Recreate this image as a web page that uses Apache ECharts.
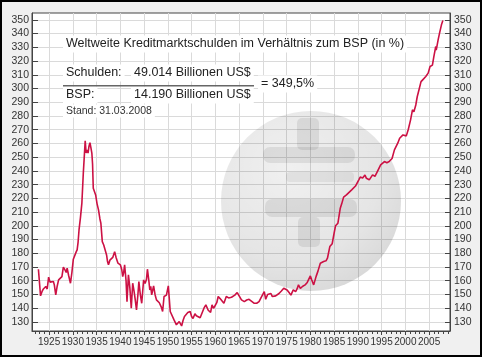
<!DOCTYPE html>
<html><head><meta charset="utf-8">
<script src="https://cdn.jsdelivr.net/npm/echarts@6/dist/echarts.min.js"></script>
<style>
html,body{margin:0;padding:0;background:#f0f0f0;}
#c{position:absolute;left:0;top:0;width:482px;height:357px;}
#b{position:absolute;left:0;top:0;width:482px;height:357px;box-sizing:border-box;border:2px solid #000;pointer-events:none;}
</style></head>
<body><div id="c"></div><div id="b"></div>
<script>
const years = [1922.75,1923.2,1923.5,1923.8,1924.3,1924.6,1924.9,1925.2,1925.4,1925.9,1926.1,1926.4,1926.7,1927.0,1927.4,1927.7,1928.0,1928.4,1928.6,1928.8,1929.1,1929.5,1929.8,1930.1,1930.5,1930.7,1930.9,1931.1,1931.3,1931.6,1931.9,1932.2,1932.4,1932.6,1932.8,1933.0,1933.2,1933.4,1933.6,1933.8,1934.0,1934.15,1934.3,1934.5,1934.8,1935.1,1935.4,1935.7,1935.9,1936.0,1936.2,1936.5,1936.8,1937.1,1937.3,1937.5,1937.8,1938.1,1938.4,1938.8,1939.1,1939.5,1939.8,1940.0,1940.3,1940.5,1940.7,1940.9,1941.2,1941.4,1941.7,1942.0,1942.3,1942.6,1942.9,1943.1,1943.4,1943.7,1943.9,1944.2,1944.5,1944.9,1945.2,1945.5,1945.7,1946.0,1946.2,1946.4,1946.6,1947.0,1947.3,1947.6,1947.9,1948.2,1948.6,1948.9,1949.2,1949.7,1950.1,1950.3,1950.5,1950.9,1951.3,1951.8,1952.1,1952.4,1952.9,1953.2,1953.5,1953.9,1954.2,1954.7,1955.0,1955.3,1955.7,1956.0,1956.4,1956.8,1957.1,1957.6,1958.0,1958.5,1959.0,1959.3,1959.6,1959.9,1960.3,1960.6,1961.0,1961.3,1961.8,1962.3,1962.8,1963.4,1963.8,1964.1,1964.6,1965.1,1965.5,1966.1,1966.6,1967.1,1967.5,1968.2,1968.7,1969.2,1969.6,1969.9,1970.3,1970.6,1971.0,1971.3,1971.7,1972.0,1972.7,1973.4,1973.9,1974.4,1975.1,1975.6,1975.9,1976.4,1976.9,1977.2,1977.5,1977.9,1978.4,1978.9,1979.3,1979.6,1980.0,1980.3,1980.7,1981.2,1981.6,1982.1,1982.8,1983.3,1983.6,1984.1,1984.6,1985.0,1985.3,1985.8,1986.3,1986.6,1987.0,1987.6,1988.0,1988.7,1989.1,1989.5,1989.8,1990.2,1990.5,1991.0,1991.5,1991.8,1992.4,1993.1,1993.6,1994.1,1994.8,1995.6,1996.1,1996.6,1997.2,1997.7,1998.4,1998.8,1999.5,2000.2,2000.6,2001.1,2001.5,2001.8,2002.2,2002.5,2002.9,2003.3,2003.7,2004.3,2004.8,2005.2,2005.7,2006.0,2006.4,2006.5,2006.9,2007.2,2007.6,2007.9];
const ratio = [168.4,149,152,154,155.8,154,162.6,159,157.7,159.4,157,149.7,156,160.6,162,163,169.9,167.5,166,169.1,164,158.2,166,175.7,176,181,182.5,188,197,206,216.5,238.3,250,262,253,255.3,253,258,260.6,257,253,245,227.4,226,222.5,216,211.6,205,201.9,202,188.5,186,184.9,178.8,174,171.6,175,174,177,181.2,177,172.8,173,171.6,168,163,166,171.6,160,144.8,164.3,155,140,158.2,152,147,138.8,150,159.4,150,143.6,160.6,158,161,168.4,160,153.3,156,149.7,156.3,150,146.1,147,144,141,137.6,148.5,149.5,156.3,147,137.6,136.5,131.5,127.9,129,130.3,127.1,131,134,135,136.8,137.6,134,132.5,136,134.5,135,133,134,140,142.4,138.5,137,142.4,140,141.6,144,148.5,147,146.5,143.6,148.5,147.5,148,148.5,149.5,151.4,148.5,146.1,144.8,146,146.5,147.6,143.6,143.6,144.8,147.6,148.5,152.1,146.5,150,149.5,150.7,148.5,149,150.7,152.5,154.5,153.3,151,149.5,153.3,152,154,157,154.5,156,157,158.5,159.4,163.5,160.6,157,163,167,172.8,174,174.5,176.4,184.9,187,194.6,200,201.9,212.8,216,220.9,222.5,223.8,226.2,227,229,228,233.5,235.5,234.8,237,234.6,233.5,237.1,236,239.5,244.4,246.8,246,246.8,249,255.3,260.2,263.8,266.2,265.5,270,277.2,284.5,283,288,294,299.5,305,306.5,308.7,311.2,316,317,323.3,330.6,328,335.4,340.3,346.4,349.5];
const xLabels = [1925,1930,1935,1940,1945,1950,1955,1960,1965,1970,1975,1980,1985,1990,1995,2000,2005];
const xMinorTicks = [1922,1923,1924,1925,1926,1927,1928,1929,1930,1931,1932,1933,1934,1935,1936,1937,1938,1939,1940,1941,1942,1943,1944,1945,1946,1947,1948,1949,1950,1951,1952,1953,1954,1955,1956,1957,1958,1959,1960,1961,1962,1963,1964,1965,1966,1967,1968,1969,1970,1971,1972,1973,1974,1975,1976,1977,1978,1979,1980,1981,1982,1983,1984,1985,1986,1987,1988,1989,1990,1991,1992,1993,1994,1995,1996,1997,1998,1999,2000,2001,2002,2003,2004,2005,2006,2007,2008,2009];
const yLabels = [130,140,150,160,170,180,190,200,210,220,230,240,250,260,270,280,290,300,310,320,330,340,350];
const titleText = 'Weltweite Kreditmarktschulden im Verhältnis zum BSP (in %)';
const numLabel = 'Schulden:', numValue = '49.014 Billionen US$';
const denLabel = 'BSP:', denValue = '14.190 Billionen US$';
const resultText = '= 349,5%';
const dateText = 'Stand: 31.03.2008';

const data = years.map((y,i)=>[y, ratio[i]]);
const FONT = 'Liberation Sans';
const XMIN = 1921.4, XMAX = 2009.4, YMIN = 123.4, YMAX = 355.0;
const gridCol = '#dadada', axisCol = '#444', txtCol = '#333';
const plain = v => String(Math.round(v));

const chart = echarts.init(document.getElementById('c'), null, {renderer:'canvas'});
const yAxisBase = {
  type:'value', min:YMIN, max:YMAX,
  axisLine:{show:true, lineStyle:{color:axisCol, width:1}},
  axisTick:{show:true, inside:true, length:6, customValues:yLabels, lineStyle:{color:axisCol}},
  axisLabel:{customValues:yLabels, formatter:plain, color:txtCol, fontFamily:FONT, fontSize:10.5, margin:3},
};
const shade = a => 'rgba(0,0,0,' + a + ')';
chart.setOption({
  animation:false,
  backgroundColor:'transparent',
  grid:{left:32, right:32, top:13, bottom:26, show:true, borderColor:axisCol, borderWidth:1, backgroundColor:'transparent'},
  xAxis:[
    {type:'value', min:XMIN, max:XMAX, position:'bottom',
     axisLine:{show:true, lineStyle:{color:axisCol}},
     axisTick:{show:true, length:4, customValues:xLabels, lineStyle:{color:axisCol}},
     axisLabel:{customValues:xLabels, formatter:plain, hideOverlap:false, color:txtCol, fontFamily:FONT, fontSize:10, margin:6},
     splitLine:{show:true, lineStyle:{color:gridCol, width:1}}},
    {type:'value', min:XMIN, max:XMAX, position:'bottom', gridIndex:0,
     axisLine:{show:false},
     axisTick:{show:true, length:3, customValues:xMinorTicks, lineStyle:{color:axisCol}},
     axisLabel:{show:false}, splitLine:{show:false}}
  ],
  yAxis:[
    Object.assign({}, yAxisBase, {position:'left', splitLine:{show:true, lineStyle:{color:gridCol, width:1}}}),
    Object.assign({}, yAxisBase, {position:'right', splitLine:{show:false},
      axisTick:{show:true, inside:true, length:5, customValues:yLabels, lineStyle:{color:axisCol}},
      axisLabel:{customValues:yLabels, formatter:plain, color:txtCol, fontFamily:FONT, fontSize:10.5, margin:4}})
  ],
  graphic:[
    {type:'rect', z:-40, shape:{x:32, y:13, width:418, height:318}, style:{fill:'#fff'}, silent:true},
    {type:'circle', z:3, shape:{cx:311, cy:201, r:90}, silent:true,
     style:{fill:new echarts.graphic.RadialGradient(0.38,0.32,0.78,[{offset:0,color:shade(0.06)},{offset:0.65,color:shade(0.1)},{offset:1,color:shade(0.16)}])}},
    {type:'rect', z:4, shape:{x:297, y:118, width:22, height:32, r:5}, style:{fill:shade(0.08)}, silent:true},
    {type:'rect', z:4, shape:{x:263, y:147, width:92, height:16, r:7}, style:{fill:shade(0.08)}, silent:true},
    {type:'rect', z:4, shape:{x:286, y:172, width:68, height:10, r:4}, style:{fill:shade(0.06)}, silent:true},
    {type:'rect', z:4, shape:{x:265, y:199, width:92, height:18, r:7}, style:{fill:shade(0.08)}, silent:true},
    {type:'rect', z:4, shape:{x:298, y:217, width:22, height:30, r:5}, style:{fill:shade(0.08)}, silent:true},
    {type:'text', z:50, x:63, y:44, style:{text:titleText, font:'12.5px '+FONT, fill:'#222', verticalAlign:'middle', backgroundColor:'#fff', padding:[2,3]}},
    {type:'text', z:50, x:63, y:73, style:{text:numLabel, font:'12.5px '+FONT, fill:'#222', verticalAlign:'middle', backgroundColor:'#fff', padding:[2,3]}},
    {type:'text', z:50, x:131, y:73, style:{text:numValue, font:'12.5px '+FONT, fill:'#222', verticalAlign:'middle', backgroundColor:'#fff', padding:[2,3]}},
    {type:'text', z:50, x:63, y:95, style:{text:denLabel, font:'12.5px '+FONT, fill:'#222', verticalAlign:'middle', backgroundColor:'#fff', padding:[2,3]}},
    {type:'text', z:50, x:131, y:95, style:{text:denValue, font:'12.5px '+FONT, fill:'#222', verticalAlign:'middle', backgroundColor:'#fff', padding:[2,3]}},
    {type:'text', z:50, x:258, y:84, style:{text:resultText, font:'12.5px '+FONT, fill:'#222', verticalAlign:'middle', backgroundColor:'#fff', padding:[2,3]}},
    {type:'text', z:50, x:63, y:111, style:{text:dateText, font:'10.5px '+FONT, fill:'#333', verticalAlign:'middle', backgroundColor:'#fff', padding:[1,3]}},
    {type:'rect', z:51, shape:{x:63, y:85, width:191, height:1.5}, style:{fill:'#666'}, silent:true}
  ],
  series:[{type:'line', xAxisIndex:0, yAxisIndex:0, data:data, showSymbol:false, symbol:'none',
    lineStyle:{color:'#cc1144', width:1.6}, z:10}]
});
</script></body></html>
